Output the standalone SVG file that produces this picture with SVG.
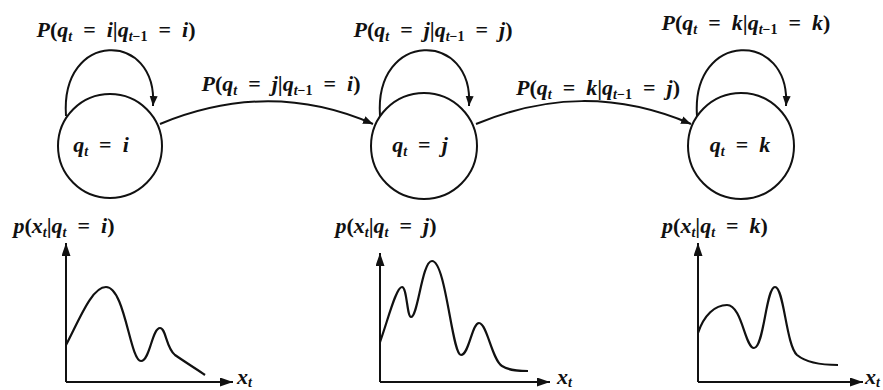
<svg xmlns="http://www.w3.org/2000/svg" width="883" height="390" viewBox="0 0 883 390">
<style>
text{font-family:"Liberation Serif","Times New Roman",serif;font-size:22px;font-weight:bold;fill:#111}
.it{font-style:italic}
.sub{font-size:14px}
.node{fill:#fff;stroke:#111;stroke-width:2}
.edge{fill:none;stroke:#111;stroke-width:2}
.axis{fill:none;stroke:#111;stroke-width:2}
.curve{fill:none;stroke:#111;stroke-width:2.2;stroke-linejoin:round}
</style>
<defs>
<marker id="ah" markerUnits="userSpaceOnUse" markerWidth="12" markerHeight="10" refX="10" refY="4" orient="auto"><path d="M0 0 L10 4 L0 8 Z" fill="#111"/></marker>
<marker id="ax" markerUnits="userSpaceOnUse" markerWidth="14" markerHeight="10" refX="13" refY="4.5" orient="auto"><path d="M0 0 L13 4.5 L0 9 Z" fill="#111"/></marker>
</defs>
<rect width="883" height="390" fill="#fff"/>

<g id="node-i"><circle class="node" cx="110" cy="146" r="52"/><text x="101" y="152" text-anchor="middle"><tspan class="it">q</tspan><tspan class="sub it" dy="4">t</tspan><tspan dy="-4">&#8194;=&#8194;</tspan><tspan class="it">i</tspan></text></g>
<g id="node-j"><circle class="node" cx="424" cy="146" r="53"/><text x="420" y="152" text-anchor="middle"><tspan class="it">q</tspan><tspan class="sub it" dy="4">t</tspan><tspan dy="-4">&#8194;=&#8194;</tspan><tspan class="it">j</tspan></text></g>
<g id="node-k"><circle class="node" cx="741" cy="146" r="53"/><text x="740" y="152" text-anchor="middle"><tspan class="it">q</tspan><tspan class="sub it" dy="4">t</tspan><tspan dy="-4">&#8194;=&#8194;</tspan><tspan class="it">k</tspan></text></g>

<g id="connectors">
<path class="edge" d="M66 116 C60 30 158 30 153 106" marker-end="url(#ah)"/>
<path class="edge" d="M380 116 C374 30 474 30 469 106" marker-end="url(#ah)"/>
<path class="edge" d="M697 116 C691 30 791 30 786 106" marker-end="url(#ah)"/>
<path class="edge" d="M160 124 C230 95 300 92 373 124" marker-end="url(#ah)"/>
<path class="edge" d="M476 124 C546 95 616 92 691 124" marker-end="url(#ah)"/>
</g>

<g id="labels">
<text x="116" y="37" text-anchor="middle"><tspan class="it">P</tspan>(<tspan class="it">q</tspan><tspan class="sub it" dy="4">t</tspan><tspan dy="-4">&#8194;=&#8194;</tspan><tspan class="it">i</tspan>|<tspan class="it">q</tspan><tspan class="sub" dy="4"><tspan class="it">t</tspan>−1</tspan><tspan dy="-4">&#8194;=&#8194;</tspan><tspan class="it">i</tspan>)</text>
<text x="433" y="37" text-anchor="middle"><tspan class="it">P</tspan>(<tspan class="it">q</tspan><tspan class="sub it" dy="4">t</tspan><tspan dy="-4">&#8194;=&#8194;</tspan><tspan class="it">j</tspan>|<tspan class="it">q</tspan><tspan class="sub" dy="4"><tspan class="it">t</tspan>−1</tspan><tspan dy="-4">&#8194;=&#8194;</tspan><tspan class="it">j</tspan>)</text>
<text x="746" y="30" text-anchor="middle"><tspan class="it">P</tspan>(<tspan class="it">q</tspan><tspan class="sub it" dy="4">t</tspan><tspan dy="-4">&#8194;=&#8194;</tspan><tspan class="it">k</tspan>|<tspan class="it">q</tspan><tspan class="sub" dy="4"><tspan class="it">t</tspan>−1</tspan><tspan dy="-4">&#8194;=&#8194;</tspan><tspan class="it">k</tspan>)</text>
<text x="281" y="91" text-anchor="middle"><tspan class="it">P</tspan>(<tspan class="it">q</tspan><tspan class="sub it" dy="4">t</tspan><tspan dy="-4">&#8194;=&#8194;</tspan><tspan class="it">j</tspan>|<tspan class="it">q</tspan><tspan class="sub" dy="4"><tspan class="it">t</tspan>−1</tspan><tspan dy="-4">&#8194;=&#8194;</tspan><tspan class="it">i</tspan>)</text>
<text x="598" y="95" text-anchor="middle"><tspan class="it">P</tspan>(<tspan class="it">q</tspan><tspan class="sub it" dy="4">t</tspan><tspan dy="-4">&#8194;=&#8194;</tspan><tspan class="it">k</tspan>|<tspan class="it">q</tspan><tspan class="sub" dy="4"><tspan class="it">t</tspan>−1</tspan><tspan dy="-4">&#8194;=&#8194;</tspan><tspan class="it">j</tspan>)</text>
</g>

<g id="plot-i">
<text x="64" y="233" text-anchor="middle"><tspan class="it">p</tspan>(<tspan class="it">x</tspan><tspan class="sub it" dy="4">t</tspan><tspan dy="-4">|</tspan><tspan class="it">q</tspan><tspan class="sub it" dy="4">t</tspan><tspan dy="-4">&#8194;=&#8194;</tspan><tspan class="it">i</tspan>)</text>
<path class="axis" d="M66 382 V243" marker-end="url(#ax)"/>
<path class="axis" d="M66 382 H233" marker-end="url(#ax)"/>
<text x="237" y="384"><tspan class="it">x</tspan><tspan class="sub it" dy="3">t</tspan></text>
<path class="curve" d="M66 345 C80 318 92 287 106 287 C125 287 130 361 141 361 C150 361 152 328 160 328 C166 328 166 348 175 355 C188 364 198 370 205 375"/>
</g>
<g id="plot-j">
<text x="386" y="233" text-anchor="middle"><tspan class="it">p</tspan>(<tspan class="it">x</tspan><tspan class="sub it" dy="4">t</tspan><tspan dy="-4">|</tspan><tspan class="it">q</tspan><tspan class="sub it" dy="4">t</tspan><tspan dy="-4">&#8194;=&#8194;</tspan><tspan class="it">j</tspan>)</text>
<path class="axis" d="M380 382 V253" marker-end="url(#ax)"/>
<path class="axis" d="M380 382 H550" marker-end="url(#ax)"/>
<text x="557" y="384"><tspan class="it">x</tspan><tspan class="sub it" dy="3">t</tspan></text>
<path class="curve" d="M380 342 C388 320 396 287 402 287 C407 287 407 317 411 317 C418 317 422 261 432 261 C446 261 452 355 461 355 C469 355 472 323 479 323 C487 323 492 360 502 366 C510 371 520 371 528 371"/>
</g>
<g id="plot-k">
<text x="715" y="233" text-anchor="middle"><tspan class="it">p</tspan>(<tspan class="it">x</tspan><tspan class="sub it" dy="4">t</tspan><tspan dy="-4">|</tspan><tspan class="it">q</tspan><tspan class="sub it" dy="4">t</tspan><tspan dy="-4">&#8194;=&#8194;</tspan><tspan class="it">k</tspan>)</text>
<path class="axis" d="M698 382 V243" marker-end="url(#ax)"/>
<path class="axis" d="M698 382 H863" marker-end="url(#ax)"/>
<text x="865" y="384"><tspan class="it">x</tspan><tspan class="sub it" dy="3">t</tspan></text>
<path class="curve" d="M698 333 C704 315 715 305 727 305 C742 305 745 348 754 348 C764 348 766 287 775 287 C784 287 786 345 797 355 C808 364 825 365 838 365"/>
</g>
</svg>
